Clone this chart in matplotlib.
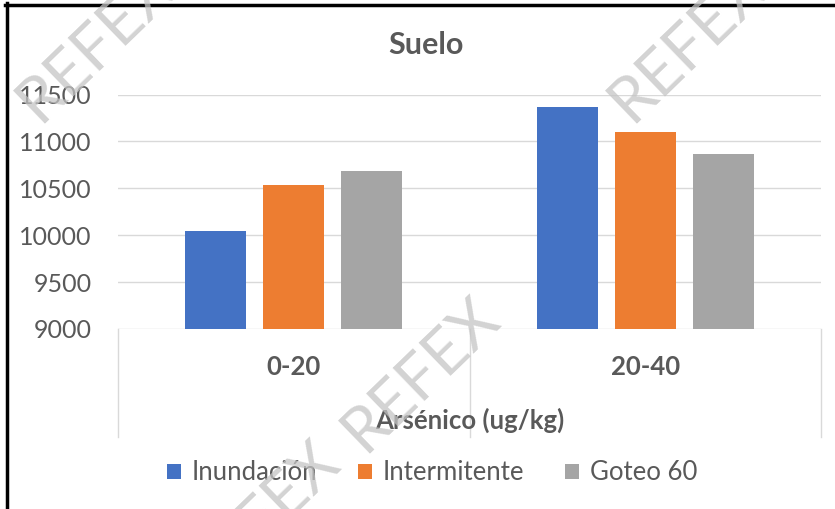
import matplotlib
matplotlib.use("Agg")
import matplotlib.pyplot as plt
import matplotlib.transforms as mtransforms
from matplotlib.lines import Line2D
import numpy as np

plt.rcParams['font.family'] = ['Lato', 'DejaVu Sans']

categories = ['0-20', '20-40']
series_names = ['Inundación', 'Intermitente', 'Goteo 60']
values = {
    'Inundación': [10050, 11370],
    'Intermitente': [10540, 11100],
    'Goteo 60': [10685, 10870],
}
colors = ['#4472C4', '#ED7D31', '#A5A5A5']
y_ticks = [9000, 9500, 10000, 10500, 11000, 11500]

W, H = 835, 509
fig = plt.figure(figsize=(W / 100, H / 100), dpi=100)

# plot area in pixels (left, top, right, bottom)
px_l, px_t, px_r, px_b = 118, 94.5, 821, 329
ax = fig.add_axes([px_l / W, (H - px_b) / H, (px_r - px_l) / W, (px_b - px_t) / H])

txt_col = '#595959'
grid_col = '#D9D9D9'

x = np.arange(len(categories))
bar_w = 0.1735
pitch = 0.222
for i, name in enumerate(series_names):
    ax.bar(x + (i - 1) * pitch, values[name], width=bar_w, color=colors[i],
           label=name, zorder=3)

ax.set_xlim(-0.5, len(categories) - 0.5)
ax.set_ylim(9000, 11500)
ax.set_yticks(y_ticks)
ax.set_yticklabels([str(t) for t in y_ticks], fontsize=18, color=txt_col)
ax.tick_params(axis='y', length=0, pad=19)
ax.set_xticks([])
ax.grid(axis='y', color=grid_col, linewidth=1, zorder=0)
for s in ax.spines.values():
    s.set_visible(False)

# category boxes below the axis, like Excel
trans = mtransforms.blended_transform_factory(ax.transData, ax.transAxes)
depth = -(437 - px_b) / (px_b - px_t)
for xb in np.arange(-0.5, len(categories), 1.0):
    ax.add_line(Line2D([xb, xb], [0, depth], transform=trans, color=grid_col,
                       linewidth=1, clip_on=False))
for i, c in enumerate(categories):
    ax.text(i, -(367 - px_b) / (px_b - px_t), c, transform=trans, ha='center',
            va='center', fontsize=18.5, fontweight='bold', color=txt_col)

fig.text(470 / W, 1 - 420 / H, 'Arsénico (ug/kg)', ha='center', va='center',
         fontsize=18.5, fontweight='bold', color=txt_col)
fig.text(426 / W, 1 - 45 / H, 'Suelo', ha='center', va='center',
         fontsize=22, fontweight='bold', color=txt_col)

leg = fig.legend(loc='center', bbox_to_anchor=(432 / W, 1 - 473 / H), ncol=3,
                 frameon=False, fontsize=18.5, handlelength=0.55, handleheight=0.55,
                 handletextpad=0.4, columnspacing=1.6)
for t in leg.get_texts():
    t.set_color(txt_col)

# watermark
for cx, cy in [(95, 45), (687, 45), (420, 375), (260, 518)]:
    fig.text(cx / W, 1 - cy / H, 'REFEX', rotation=44, ha='center', va='center',
             fontsize=46, fontweight='normal', color='#C4C4C4', alpha=0.75,
             zorder=10, rotation_mode='anchor')

# black frame on top and left edges
fig.add_artist(Line2D([5 / W, 1], [1 - 4.5 / H, 1 - 4.5 / H], color='black', linewidth=2.5))
fig.add_artist(Line2D([6.5 / W, 6.5 / W], [0, 1 - 3 / H], color='black', linewidth=2.5))

fig.savefig('out.png', dpi=100)
